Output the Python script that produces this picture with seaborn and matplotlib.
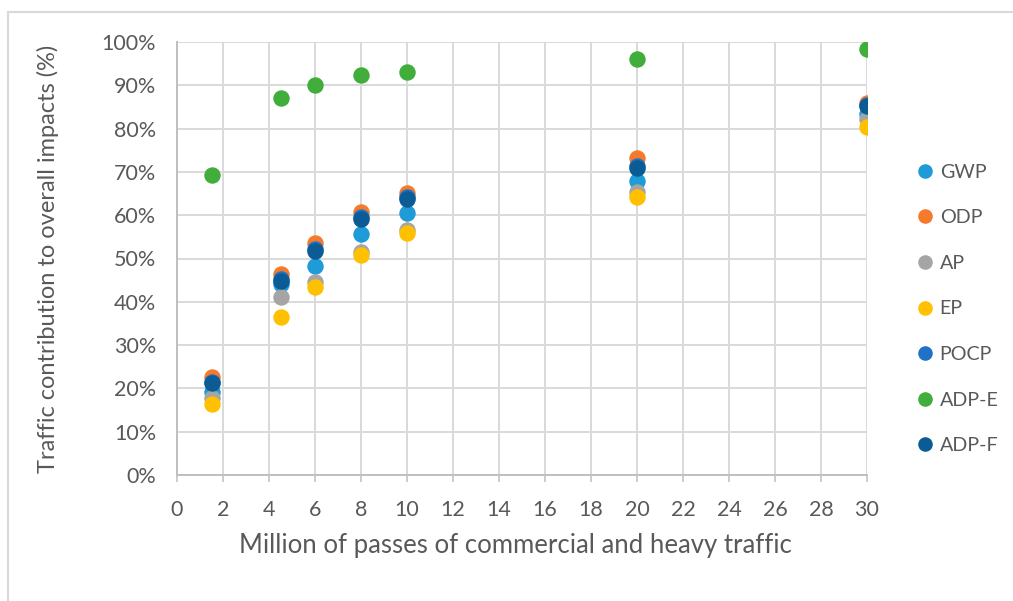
import matplotlib
matplotlib.use("Agg")
import matplotlib.pyplot as plt
from matplotlib.lines import Line2D
from matplotlib.ticker import FuncFormatter, MultipleLocator
import pandas as pd
import seaborn as sns

# Million passes of commercial and heavy traffic
passes = [1.5, 4.5, 6, 8, 10, 20, 30]

# Traffic share of each impact category (%)
gwp = [19.1, 44.2, 48.3, 55.6, 60.4, 68.0, 83.4]
odp = [22.6, 46.5, 53.5, 60.7, 65.2, 73.2, 86.0]
ap = [17.8, 41.2, 44.5, 51.5, 56.6, 65.3, 82.3]
ep = [16.3, 36.6, 43.5, 50.7, 55.9, 64.1, 80.4]
pocp = [21.5, 45.3, 52.1, 59.5, 64.1, 71.3, 85.5]
adp_e = [69.3, 87.1, 90.1, 92.4, 93.0, 96.1, 98.4]
adp_f = [21.3, 44.8, 51.8, 59.2, 63.8, 71.0, 85.2]

categories = ["GWP", "ODP", "AP", "EP", "POCP", "ADP-E", "ADP-F"]
series = [gwp, odp, ap, ep, pocp, adp_e, adp_f]
colors = ["#1f9bd7", "#f57a2b", "#a5a5a5", "#ffc000", "#1f72c6", "#41ad3b", "#0b5b94"]

df = pd.DataFrame(
    [(x, v, c) for c, vals in zip(categories, series) for x, v in zip(passes, vals)],
    columns=["passes", "share", "category"],
)

sns.set_style("white")
plt.rcParams["font.family"] = ["Lato", "DejaVu Sans"]
grey = "#595959"

fig = plt.figure(figsize=(10.13, 6.01), dpi=100)
ax = fig.add_axes([177 / 1013, 1 - 475 / 601, 690 / 1013, 433 / 601])

palette = dict(zip(categories, colors))
for cat in categories:
    sns.scatterplot(
        data=df[df["category"] == cat], x="passes", y="share",
        color=palette[cat], s=140, linewidth=0, ax=ax, legend=False, zorder=3,
    )

ax.set_xlim(0, 30)
ax.set_ylim(0, 100)
ax.xaxis.set_major_locator(MultipleLocator(2))
ax.yaxis.set_major_locator(MultipleLocator(10))
ax.yaxis.set_major_formatter(FuncFormatter(lambda v, _: f"{v:.0f}%"))
ax.grid(True, color="#d9d9d9", linewidth=1.4, zorder=0)
ax.set_axisbelow(True)

for side in ["top", "right"]:
    ax.spines[side].set_visible(False)
for side in ["left", "bottom"]:
    ax.spines[side].set_color("#bfbfbf")
    ax.spines[side].set_linewidth(1.4)

ax.tick_params(axis="x", colors=grey, labelsize=15.5, length=5, width=1.1,
               color="#bfbfbf", pad=13, direction="out", bottom=True)
ax.tick_params(axis="y", colors=grey, labelsize=15.5, length=0, pad=15)

ax.set_xlabel("Million of passes of commercial and heavy traffic",
              fontsize=18.5, color=grey)
ax.set_ylabel("Traffic contribution to overall impacts (%)",
              fontsize=17, color=grey)
ax.xaxis.set_label_coords((515 - 177) / 690, (475 - 545) / 433)
ax.yaxis.set_label_coords((48 - 177) / 690, 0.5)
ax.xaxis.label.set_va("center")
ax.yaxis.label.set_va("center")

handles = [Line2D([], [], marker="o", linestyle="", markersize=10.5,
                  markerfacecolor=c, markeredgewidth=0) for c in colors]
leg = fig.legend(handles, categories, loc="center left",
                 bbox_to_anchor=(915 / 1013, 1 - 309 / 601), frameon=False,
                 fontsize=14.2, labelspacing=1.45, handletextpad=0.25,
                 handlelength=1.0, borderpad=0, borderaxespad=0)
for t in leg.get_texts():
    t.set_color(grey)

# outer chart frame
fig.add_artist(Line2D([8 / 1013, 8 / 1013], [0, 1 - 12 / 601],
                      color="#d9d9d9", linewidth=1.5, transform=fig.transFigure))
fig.add_artist(Line2D([8 / 1013, 1], [1 - 12 / 601, 1 - 12 / 601],
                      color="#d9d9d9", linewidth=1.5, transform=fig.transFigure))

fig.savefig("out.png", dpi=100)
